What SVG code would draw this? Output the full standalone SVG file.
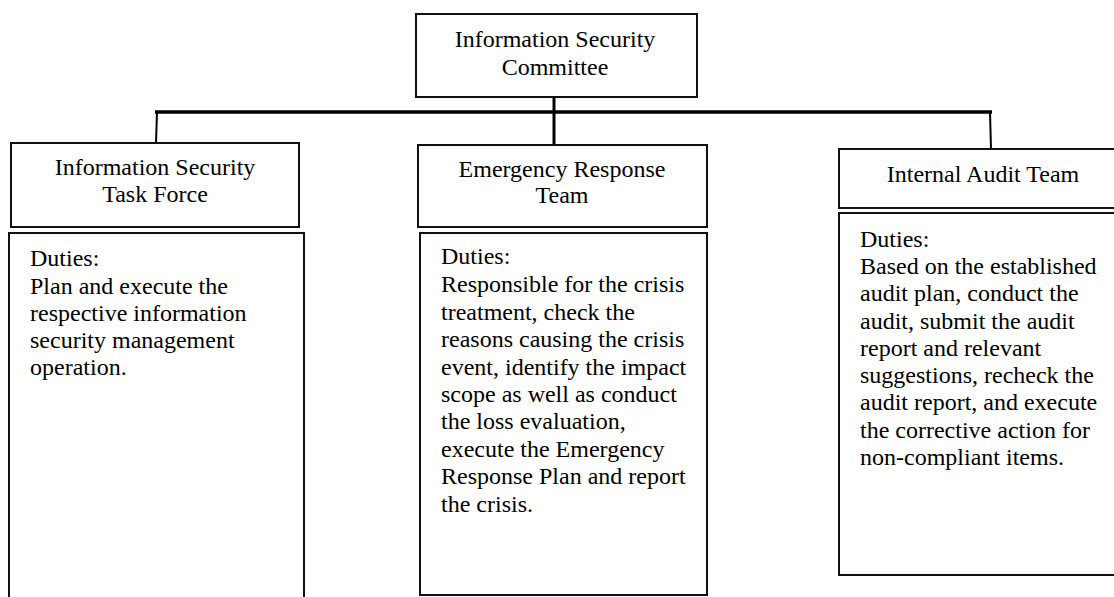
<svg xmlns="http://www.w3.org/2000/svg" width="1114" height="597" viewBox="0 0 1114 597">
  <style>
    .box { fill: #ffffff; stroke: #111111; stroke-width: 2; }
    .link { stroke: #000000; fill: none; }
    .t { font-family: "Liberation Serif", "Times New Roman", serif; font-size: 24px; fill: #000000; }
    .c { text-anchor: middle; }
  </style>
  <rect width="1114" height="597" fill="#ffffff"/>

  <!-- tree connectors -->
  <g id="connectors">
    <line class="link" x1="155" y1="112" x2="992" y2="112" stroke-width="3.5"/>
    <line class="link" x1="554" y1="96" x2="554" y2="149" stroke-width="3"/>
    <line class="link" x1="157" y1="112" x2="156" y2="143" stroke-width="2"/>
    <line class="link" x1="990" y1="112" x2="991" y2="149" stroke-width="2"/>
  </g>

  <!-- top of the hierarchy -->
  <g id="committee">
    <rect class="box" x="416" y="14" width="281" height="83"/>
    <text class="t c" x="555" y="47">Information Security</text>
    <text class="t c" x="555" y="75">Committee</text>
  </g>

  <!-- left branch -->
  <g id="task-force">
    <rect class="box" x="11" y="143" width="288" height="84"/>
    <text class="t c" x="155" y="175">Information Security</text>
    <text class="t c" x="155" y="202">Task Force</text>
  </g>
  <g id="task-force-duties">
    <rect class="box" x="9" y="233" width="295" height="380"/>
    <text class="t" x="30" y="266">Duties:</text>
    <text class="t" x="30" y="294">Plan and execute the</text>
    <text class="t" x="30" y="321">respective information</text>
    <text class="t" x="30" y="348">security management</text>
    <text class="t" x="30" y="375">operation.</text>
  </g>

  <!-- middle branch -->
  <g id="emergency-team">
    <rect class="box" x="418" y="145" width="289" height="82"/>
    <text class="t c" x="562" y="177">Emergency Response</text>
    <text class="t c" x="562" y="203">Team</text>
  </g>
  <g id="emergency-duties">
    <rect class="box" x="420" y="233" width="287" height="362"/>
    <text class="t" x="441" y="264">Duties:</text>
    <text class="t" x="441" y="292">Responsible for the crisis</text>
    <text class="t" x="441" y="320">treatment, check the</text>
    <text class="t" x="441" y="347">reasons causing the crisis</text>
    <text class="t" x="441" y="375">event, identify the impact</text>
    <text class="t" x="441" y="402">scope as well as conduct</text>
    <text class="t" x="441" y="429">the loss evaluation,</text>
    <text class="t" x="441" y="457">execute the Emergency</text>
    <text class="t" x="441" y="484">Response Plan and report</text>
    <text class="t" x="441" y="512">the crisis.</text>
  </g>

  <!-- right branch -->
  <g id="audit-team">
    <rect class="box" x="839" y="149" width="300" height="59"/>
    <text class="t c" x="983" y="182">Internal Audit Team</text>
  </g>
  <g id="audit-duties">
    <rect class="box" x="839" y="213" width="300" height="362"/>
    <text class="t" x="860" y="247">Duties:</text>
    <text class="t" x="860" y="274">Based on the established</text>
    <text class="t" x="860" y="301">audit plan, conduct the</text>
    <text class="t" x="860" y="329">audit, submit the audit</text>
    <text class="t" x="860" y="356">report and relevant</text>
    <text class="t" x="860" y="383">suggestions, recheck the</text>
    <text class="t" x="860" y="410">audit report, and execute</text>
    <text class="t" x="860" y="438">the corrective action for</text>
    <text class="t" x="860" y="465">non-compliant items.</text>
  </g>
</svg>
